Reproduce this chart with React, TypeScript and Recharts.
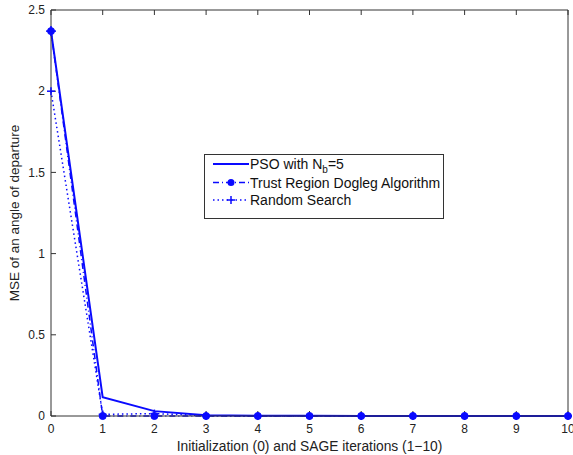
import React from 'react';
import { LineChart, Line, XAxis, YAxis, Legend } from 'recharts';

const iterations = [0, 1, 2, 3, 4, 5, 6, 7, 8, 9, 10];
const psoValues = [2.37, 0.115, 0.03, 0.005, 0.002, 0.001, 0, 0, 0, 0, 0];
const trustValues = [2.37, 0, 0, 0, 0, 0, 0, 0, 0, 0, 0];
const randomValues = [2.0, 0.01, 0.015, 0.002, 0, 0, 0, 0, 0, 0, 0];
const xTicks = [0, 1, 2, 3, 4, 5, 6, 7, 8, 9, 10];
const yTicks = [0, 0.5, 1, 1.5, 2, 2.5];

const data = iterations.map((x, i) => ({
  x,
  pso: psoValues[i],
  trust: trustValues[i],
  random: randomValues[i],
}));

const BLUE = '#0a0aff';
const AXIS = '#333333';
const FONT = '"Liberation Sans", Arial, sans-serif';

const CircleDot = (props: any) => {
  const { cx, cy, index } = props;
  if (cx == null || cy == null) return <g />;
  return (
    <g>
      <circle cx={cx} cy={cy} r={3.5} fill={BLUE} stroke={BLUE} />
      {index === 0 && (
        <g stroke={BLUE} strokeWidth={1.5}>
          <line x1={cx - 5} y1={cy} x2={cx + 5} y2={cy} />
          <line x1={cx} y1={cy - 5} x2={cx} y2={cy + 5} />
        </g>
      )}
    </g>
  );
};

const PlusDot = (props: any) => {
  const { cx, cy } = props;
  if (cx == null || cy == null) return <g />;
  return (
    <g stroke={BLUE} strokeWidth={1.5}>
      <line x1={cx - 4} y1={cy} x2={cx + 4} y2={cy} />
      <line x1={cx} y1={cy - 4} x2={cx} y2={cy + 4} />
    </g>
  );
};

const EmptyTick = () => <g />;

const LegendBox = () => (
  <svg width={240} height={65} style={{ display: 'block' }}>
    <rect x={0.5} y={0.5} width={239} height={64} fill="#fff" stroke={AXIS} strokeWidth={1} />
    <g fontFamily={FONT} fontSize={14} fill="#111">
      <line x1={9} y1={10} x2={45} y2={10} stroke={BLUE} strokeWidth={2} />
      <text x={46} y={15}>
        PSO with N<tspan dy={4} fontSize={10}>b</tspan><tspan dy={-4}>=5</tspan>
      </text>
      <line x1={9} y1={28.5} x2={45} y2={28.5} stroke={BLUE} strokeWidth={1.5} strokeDasharray="6 3 1 3" />
      <circle cx={27} cy={28.5} r={3.5} fill={BLUE} />
      <text x={46} y={33.5}>Trust Region Dogleg Algorithm</text>
      <line x1={9} y1={46} x2={45} y2={46} stroke={BLUE} strokeWidth={1.5} strokeDasharray="1.5 3" />
      <g stroke={BLUE} strokeWidth={1.5}>
        <line x1={23} y1={46} x2={31} y2={46} />
        <line x1={27} y1={42} x2={27} y2={50} />
      </g>
      <text x={46} y={51}>Random Search</text>
    </g>
  </svg>
);

export default function App() {
  return (
    <div style={{ position: 'absolute', left: 0, top: 0, width: 573, height: 455, background: '#fff' }}>
      <LineChart
        width={573}
        height={455}
        data={data}
        margin={{ top: 9, right: 4, bottom: 0, left: 0 }}
        style={{ fontFamily: FONT }}
      >
        <XAxis
          dataKey="x"
          type="number"
          domain={[0, 10]}
          ticks={xTicks}
          interval={0}
          height={39}
          stroke={AXIS}
          tickSize={-5}
          tickMargin={13}
          tick={{ fontSize: 12, fill: '#222', fontFamily: FONT }}
          label={{
            value: 'Initialization (0) and SAGE iterations (1\u221210)',
            position: 'insideBottom',
            offset: 4,
            fontSize: 13.8,
            fill: '#222',
            fontFamily: FONT,
          }}
        />
        <XAxis
          xAxisId="top"
          dataKey="x"
          type="number"
          orientation="top"
          domain={[0, 10]}
          ticks={xTicks}
          interval={0}
          height={1}
          stroke={AXIS}
          tickSize={-5}
          tick={EmptyTick}
        />
        <YAxis
          yAxisId="l"
          type="number"
          domain={[0, 2.5]}
          ticks={yTicks}
          interval={0}
          width={51}
          stroke={AXIS}
          tickSize={-5}
          tickMargin={11}
          tick={{ fontSize: 12, fill: '#222', fontFamily: FONT }}
          label={{
            value: 'MSE of an angle of departure',
            angle: -90,
            position: 'insideLeft',
            offset: 14,
            style: { textAnchor: 'middle' },
            fontSize: 13.5,
            fill: '#222',
            fontFamily: FONT,
          }}
        />
        <YAxis
          yAxisId="r"
          type="number"
          orientation="right"
          domain={[0, 2.5]}
          ticks={yTicks}
          interval={0}
          width={1}
          stroke={AXIS}
          tickSize={-5}
          tick={EmptyTick}
        />
        <Legend
          layout="horizontal"
          verticalAlign="middle"
          align="center"
          content={() => <LegendBox />}
          wrapperStyle={{ position: 'absolute', left: 204, top: 154, width: 240, height: 65 }}
        />
        <Line
          yAxisId="l"
          dataKey="pso"
          name="PSO with Nb=5"
          stroke={BLUE}
          strokeWidth={2}
          dot={false}
          type="linear"
          isAnimationActive={false}
        />
        <Line
          yAxisId="l"
          dataKey="trust"
          name="Trust Region Dogleg Algorithm"
          stroke={BLUE}
          strokeWidth={1.5}
          strokeDasharray="6 3 1 3"
          dot={<CircleDot />}
          type="linear"
          isAnimationActive={false}
        />
        <Line
          yAxisId="l"
          dataKey="random"
          name="Random Search"
          stroke={BLUE}
          strokeWidth={1.5}
          strokeDasharray="1.5 3"
          dot={<PlusDot />}
          type="linear"
          isAnimationActive={false}
        />
      </LineChart>
    </div>
  );
}
